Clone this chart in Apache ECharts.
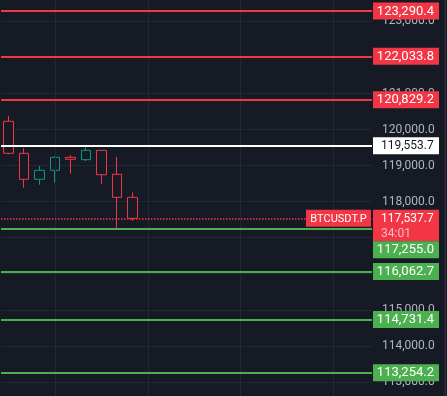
<!DOCTYPE html>
<html>
<head>
<meta charset="utf-8">
<script src="https://cdn.jsdelivr.net/npm/echarts@6/dist/echarts.min.js"></script>
<style>
html,body{margin:0;padding:0;background:#161a25;}
#c{width:447px;height:396px;}
</style>
</head>
<body>
<div id="c"></div>
<script>
// ---- data ----
const categories = ['1','2','3','4','5','6','7','8','9','10','11','12','13','14','15','16','17','18','19','20','21','22','23','24'];
const opens  = [120229, 119341, 118620, 118870, 119230, 119164, 119424, 118759, 118120];
const closes = [119341, 118620, 118870, 119230, 119175, 119424, 118747, 118120, 117537.7];
const lows   = [119314, 118387, 118470, 118525, 118775, 119128, 118498, 117249, 117471];
const highs  = [120376, 119480, 118989, 119258, 119294, 119524, 119430, 119239, 118259];
const resistanceLevels = [123290.4, 122033.8, 120829.2];
const pivotLevel = 119553.7;
const supportLevels = [117255.0, 116062.7, 114731.4, 113254.2];
const currentPrice = 117537.7;
const countdown = '34:01';
const symbolName = 'BTCUSDT.P';
const verticalGridIdx = [3, 9, 15, 21];

const RED = '#f23645', GREEN = '#4caf50', TEAL = '#089981', BG = '#161a25', GRIDC = '#232733';
const fmt = v => v.toLocaleString('en-US', {minimumFractionDigits: 1, maximumFractionDigits: 1});

const candleData = opens.map((o, i) => [o, closes[i], lows[i], highs[i]]);
const nulls = categories.map(() => '-');

const chart = echarts.init(document.getElementById('c'), null, {renderer: 'canvas'});

const priceLines = [];
resistanceLevels.forEach(v => priceLines.push({yAxis: v, lineStyle: {color: RED, width: 2, type: 'solid'}}));
priceLines.push({yAxis: pivotLevel, lineStyle: {color: '#ffffff', width: 2, type: 'solid'}});
supportLevels.forEach(v => priceLines.push({yAxis: v, lineStyle: {color: GREEN, width: 2, type: 'solid'}}));
priceLines.push({yAxis: currentPrice, lineStyle: {color: RED, width: 1.5, type: [1.5, 1.5]}});

chart.setOption({
  backgroundColor: BG,
  animation: false,
  textStyle: {fontFamily: 'Roboto'},
  grid: {left: 1, right: 75, top: -14.6, bottom: -21.9, containLabel: false, outerBoundsMode: 'none'},
  xAxis: {
    type: 'category', data: categories, boundaryGap: true,
    axisLine: {show: false}, axisTick: {show: false}, axisLabel: {show: false}, splitLine: {show: false}
  },
  yAxis: {
    type: 'value', position: 'right', min: 112000, max: 124000, interval: 1000,
    axisLine: {show: false}, axisTick: {show: false},
    axisLabel: {color: '#b2b5be', fontSize: 12, fontFamily: 'Roboto', margin: 10, formatter: v => fmt(v)},
    splitLine: {show: true, lineStyle: {color: GRIDC, width: 1}}
  },
  series: [
    {
      type: 'line', data: nulls, z: 1, symbol: 'none', silent: true,
      markLine: {
        silent: true, symbol: 'none', label: {show: false}, animation: false,
        lineStyle: {color: GRIDC, width: 1, type: 'solid'},
        data: verticalGridIdx.map(i => ({xAxis: i}))
      }
    },
    {
      type: 'candlestick', data: candleData, z: 2, barWidth: 10,
      itemStyle: {color: BG, color0: BG, borderColor: TEAL, borderColor0: RED, borderWidth: 1}
    },
    {
      type: 'line', data: nulls, z: 3, symbol: 'none', silent: true,
      markLine: {
        silent: true, symbol: 'none', label: {show: false}, animation: false,
        data: priceLines
      }
    }
  ]
});

// ---- price badges on the axis ----
const py = v => chart.convertToPixel({yAxisIndex: 0}, v);
const BX = 373, BW = 66, BH = 17, TXR = 434;
const els = [];
function badge(yTop, bg, label, color, size, align) {
  els.push({type: 'rect', z: 100, shape: {x: BX, y: yTop, width: BW, height: BH}, style: {fill: bg}});
  els.push({type: 'text', z: 101, style: {
    text: label, x: align === 'left' ? 381 : TXR, y: yTop + BH / 2 + 0.5,
    fill: color, font: size + 'px Roboto', align: align || 'right', verticalAlign: 'middle',
    textAlign: align || 'right', textVerticalAlign: 'middle'
  }});
}
resistanceLevels.forEach(v => badge(py(v) - BH / 2, RED, fmt(v), '#ffffff', 13));
badge(py(pivotLevel) - BH / 2, '#ffffff', fmt(pivotLevel), '#131722', 12, 'left');

const cy = py(currentPrice);
const curTop = cy - BH / 2;
const curH = 31.4;
els.push({type: 'rect', z: 100, shape: {x: BX, y: curTop, width: BW, height: curH}, style: {fill: RED}});
els.push({type: 'text', z: 101, style: {text: fmt(currentPrice), x: 381, y: cy + 0.5, fill: '#ffffff', font: '12px Roboto', align: 'left', verticalAlign: 'middle', textAlign: 'left', textVerticalAlign: 'middle'}});
els.push({type: 'text', z: 101, style: {text: countdown, x: 381, y: cy + 15.5, fill: '#f9bcc1', font: '12px Roboto', align: 'left', verticalAlign: 'middle', textAlign: 'left', textVerticalAlign: 'middle'}});
// symbol tag
els.push({type: 'rect', z: 100, shape: {x: 306, y: curTop, width: 65, height: BH}, style: {fill: RED}});
els.push({type: 'text', z: 101, style: {text: symbolName, x: 338.5, y: cy + 0.5, fill: '#ffffff', font: '11px Roboto', align: 'center', verticalAlign: 'middle', textAlign: 'center', textVerticalAlign: 'middle'}});

// first support badge is pushed below the current price badge
supportLevels.forEach((v, i) => {
  let top = py(v) - BH / 2;
  if (i === 0) top = Math.max(top, curTop + curH);
  badge(top, GREEN, fmt(v), '#ffffff', 13);
});
// right border
els.push({type: 'rect', z: 100, shape: {x: 444.5, y: 0, width: 1.5, height: 396}, style: {fill: '#2a2e39'}});

chart.setOption({graphic: {elements: els}});
</script>
</body>
</html>
